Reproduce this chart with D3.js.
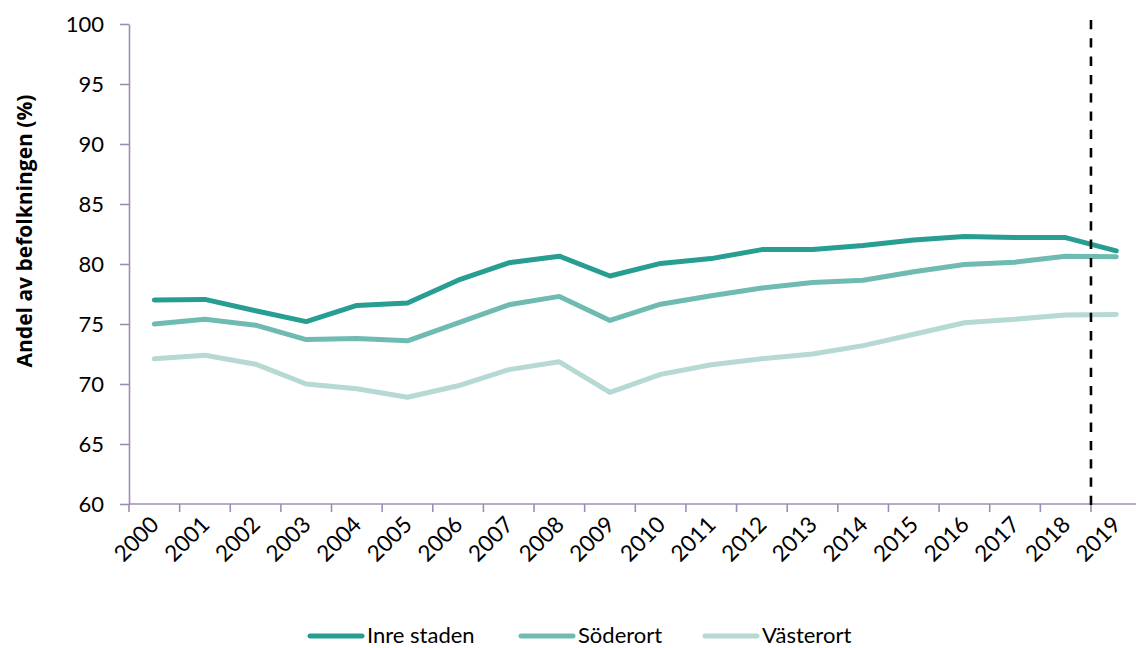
<!DOCTYPE html>
<html>
<head>
<meta charset="utf-8">
<script src="https://cdn.jsdelivr.net/npm/d3@7"></script>
<style>
  body { margin: 0; background: #fff; }
  svg { display: block; font-family: Lato, "Open Sans", sans-serif; }
</style>
</head>
<body>
<svg id="chart" width="1136" height="648"></svg>
<script>
// data
var years = ["2000","2001","2002","2003","2004","2005","2006","2007","2008","2009",
             "2010","2011","2012","2013","2014","2015","2016","2017","2018","2019"];
var inreStaden = [77.0, 77.05, 76.1, 75.2, 76.55, 76.75, 78.65, 80.1, 80.65, 79.0,
                  80.05, 80.45, 81.2, 81.2, 81.55, 82.0, 82.3, 82.2, 82.2, 81.1];
var soderort = [75.0, 75.4, 74.9, 73.7, 73.8, 73.6, 75.1, 76.6, 77.3, 75.3,
                76.65, 77.35, 78.0, 78.45, 78.65, 79.35, 79.95, 80.15, 80.65, 80.6];
var vasterort = [72.1, 72.4, 71.65, 70.0, 69.6, 68.9, 69.85, 71.2, 71.85, 69.3,
                 70.8, 71.6, 72.1, 72.5, 73.2, 74.15, 75.1, 75.4, 75.75, 75.8];
var seriesNames = ["Inre staden", "Söderort", "Västerort"];
var yTicks = [60, 65, 70, 75, 80, 85, 90, 95, 100];
var markerYear = "2019"; // dashed line at start of this year

var colors = ["#279e91", "#6fbbb2", "#b6d9d3"];
var axisColor = "#a08cb2";

var svg = d3.select("#chart");

var x = d3.scaleBand().domain(years).range([129, 1141.6]);
var y = d3.scaleLinear().domain([60, 100]).range([504, 24]);

// y axis
var yAxis = svg.append("g")
  .attr("transform", "translate(129,0)")
  .call(d3.axisLeft(y).tickValues(yTicks).tickSize(9).tickSizeOuter(0).tickPadding(16));
yAxis.select(".domain").attr("stroke", axisColor).attr("stroke-width", 1.6);
yAxis.selectAll(".tick line").attr("stroke", axisColor).attr("stroke-width", 1.6);
yAxis.selectAll(".tick text").attr("font-size", 22).attr("fill", "#000")
  .attr("font-family", "Lato, sans-serif");

// x axis: baseline + ticks at category boundaries
svg.append("line")
  .attr("x1", 129).attr("x2", 1141.6)
  .attr("y1", y(60)).attr("y2", y(60))
  .attr("stroke", axisColor).attr("stroke-width", 1.6);
svg.append("g").selectAll("line")
  .data(years)
  .join("line")
  .attr("x1", d => x(d)).attr("x2", d => x(d))
  .attr("y1", y(60)).attr("y2", y(60) + 8)
  .attr("stroke", axisColor).attr("stroke-width", 1.6);

// rotated year labels
svg.append("g").selectAll("text")
  .data(years)
  .join("text")
  .attr("transform", d => "translate(" + (x(d) + x.bandwidth() / 2 + 6) + "," + (y(60) + 22) + ") rotate(-45)")
  .attr("text-anchor", "end")
  .attr("font-size", 22.5)
  .attr("fill", "#000")
  .text(d => d);

// y title
svg.append("text")
  .attr("transform", "translate(32,231) rotate(-90)")
  .attr("text-anchor", "middle")
  .attr("font-size", 21)
  .attr("font-weight", "bold")
  .attr("font-family", "'Open Sans', sans-serif")
  .attr("fill", "#000")
  .text("Andel av befolkningen (%)");

// lines
var allSeries = [inreStaden, soderort, vasterort];
var line = d3.line()
  .x((d, i) => x(years[i]) + x.bandwidth() / 2)
  .y(d => y(d));

// draw lightest first so dark sits on top
[2, 1, 0].forEach(function(k) {
  svg.append("path")
    .datum(allSeries[k])
    .attr("d", line)
    .attr("fill", "none")
    .attr("stroke", colors[k])
    .attr("stroke-width", 5)
    .attr("stroke-linejoin", "round")
    .attr("stroke-linecap", "round");
});

// dashed marker
svg.append("line")
  .attr("x1", x(markerYear)).attr("x2", x(markerYear))
  .attr("y1", 20).attr("y2", 508)
  .attr("stroke", "#000")
  .attr("stroke-width", 2.6)
  .attr("stroke-dasharray", "9.3,9");

// legend
var legendX = [310, 521, 705];
var legend = svg.append("g").selectAll("g")
  .data(seriesNames)
  .join("g")
  .attr("transform", (d, i) => "translate(" + legendX[i] + ",636)");
legend.append("line")
  .attr("x1", 0).attr("x2", 52)
  .attr("stroke", (d, i) => colors[i])
  .attr("stroke-width", 5)
  .attr("stroke-linecap", "round");
legend.append("text")
  .attr("x", 57).attr("y", 7)
  .attr("font-size", 22)
  .attr("fill", "#000")
  .text(d => d);
</script>
</body>
</html>
